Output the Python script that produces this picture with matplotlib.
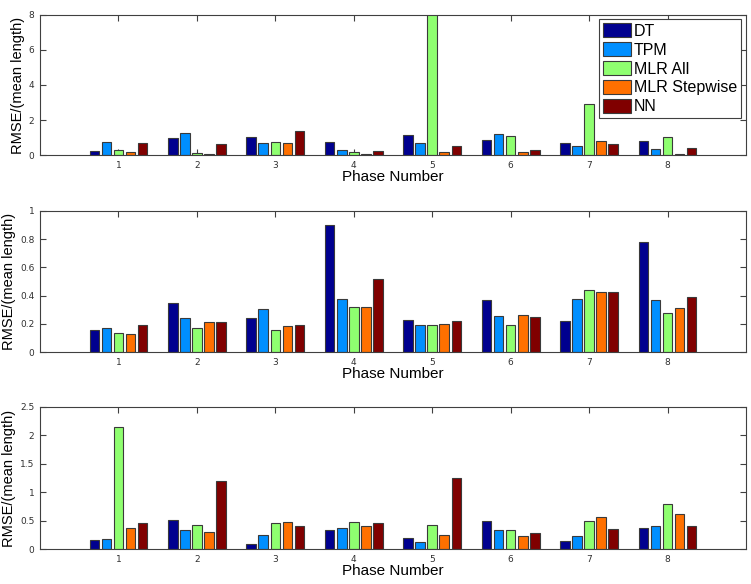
import numpy as np
import matplotlib
matplotlib.use("Agg")
import matplotlib.pyplot as plt

# Phase numbers and model names
phases = [1, 2, 3, 4, 5, 6, 7, 8]
models = ["DT", "TPM", "MLR All", "MLR Stepwise", "NN"]
colors = ["#00008F", "#008FFF", "#8FFF70", "#FF7000", "#800000"]

# RMSE/(mean length), one list per model
top_dt = [0.23, 0.97, 1.04, 0.74, 1.15, 0.87, 0.70, 0.83]
top_tpm = [0.74, 1.27, 0.68, 0.30, 0.70, 1.23, 0.55, 0.34]
top_mlr_all = [0.30, 0.13, 0.74, 0.17, 9.50, 1.11, 2.93, 1.02]
top_mlr_step = [0.17, 0.10, 0.70, 0.06, 0.17, 0.17, 0.80, 0.10]
top_nn = [0.70, 0.62, 1.36, 0.26, 0.55, 0.28, 0.66, 0.40]

mid_dt = [0.154, 0.350, 0.239, 0.898, 0.229, 0.366, 0.217, 0.780]
mid_tpm = [0.168, 0.239, 0.307, 0.378, 0.189, 0.253, 0.378, 0.371]
mid_mlr_all = [0.132, 0.173, 0.158, 0.319, 0.194, 0.194, 0.440, 0.274]
mid_mlr_step = [0.128, 0.213, 0.182, 0.322, 0.199, 0.260, 0.428, 0.310]
mid_nn = [0.189, 0.213, 0.191, 0.515, 0.217, 0.248, 0.428, 0.390]

bot_dt = [0.17, 0.515, 0.094, 0.345, 0.205, 0.503, 0.146, 0.368]
bot_tpm = [0.175, 0.34, 0.257, 0.38, 0.129, 0.34, 0.228, 0.415]
bot_mlr_all = [2.14, 0.427, 0.462, 0.474, 0.42, 0.34, 0.491, 0.79]
bot_mlr_step = [0.374, 0.304, 0.474, 0.415, 0.25, 0.228, 0.561, 0.62]
bot_nn = [0.456, 1.19, 0.404, 0.456, 1.245, 0.292, 0.351, 0.415]

panels = [
    ([top_dt, top_tpm, top_mlr_all, top_mlr_step, top_nn], 8, [0, 2, 4, 6, 8], ["0", "2", "4", "6", "8"]),
    ([mid_dt, mid_tpm, mid_mlr_all, mid_mlr_step, mid_nn], 1,
     [0, 0.2, 0.4, 0.6, 0.8, 1], ["0", "0.2", "0.4", "0.6", "0.8", "1"]),
    ([bot_dt, bot_tpm, bot_mlr_all, bot_mlr_step, bot_nn], 2.5,
     [0, 0.5, 1, 1.5, 2, 2.5], ["0", "0.5", "1", "1.5", "2", "2.5"]),
]

# axes rectangles in figure fractions
rects = [
    [0.0533, 0.734, 0.940, 0.241],
    [0.0533, 0.397, 0.940, 0.242],
    [0.0533, 0.0594, 0.940, 0.244],
]

fig = plt.figure(figsize=(7.51, 5.84), dpi=100)

x = np.array(phases, dtype=float)
step = 0.769 / 5
width = step * 0.8

for i, (series, ymax, yticks, ylabels) in enumerate(panels):
    ax = fig.add_axes(rects[i])
    for j, vals in enumerate(series):
        off = (j - 2) * step
        ax.bar(x + off, vals, width=width, color=colors[j], edgecolor="#3a3a3a",
               linewidth=0.8, label=models[j], zorder=2)
    ax.set_xlim(0, 9)
    ax.set_ylim(0, ymax)
    ax.set_xticks(phases)
    ax.set_xticklabels([str(p) for p in phases])
    ax.set_yticks(yticks)
    ax.set_yticklabels(ylabels)
    ax.tick_params(direction="in", top=True, right=True, length=4, width=0.8,
                   labelsize=6.5, colors="#404040", labelcolor="#303030", pad=4)
    for sp in ax.spines.values():
        sp.set_color("#404040")
        sp.set_linewidth(0.8)
    ax.set_xlabel("Phase Number", fontsize=11, family="Liberation Sans", labelpad=0)
    ax.set_ylabel("RMSE/(mean length)", fontsize=10.5, family="Liberation Sans", labelpad=3)
    if i == 0:
        leg = ax.legend(loc="upper right", prop={"family": "Liberation Sans", "size": 11.5},
                        fancybox=False, edgecolor="#404040", framealpha=1,
                        handlelength=1.75, handleheight=0.95, handletextpad=0.2,
                        labelspacing=0.22, borderpad=0.25, borderaxespad=0.3)
        leg.get_frame().set_linewidth(0.8)

fig.savefig("out.png", dpi=100)
